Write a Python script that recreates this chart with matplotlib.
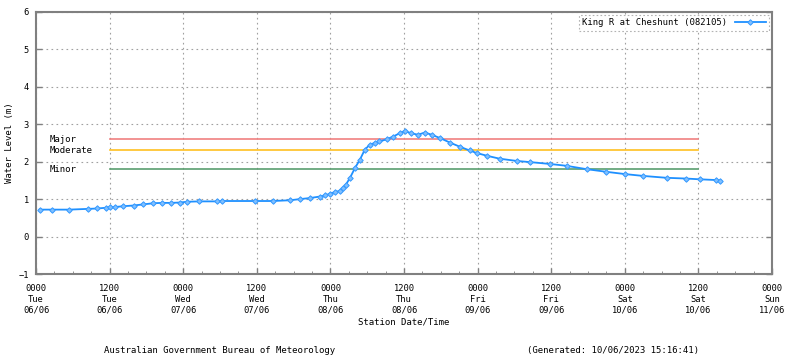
import numpy as np
import matplotlib.pyplot as plt

# hours since 0000 Tue 06/06, water level (m)
hours = [0.6, 2.6, 5.4, 8.5, 10.0, 11.4, 12.0, 12.9, 14.2, 15.9, 17.5, 19.1, 20.5,
         22.0, 23.5, 24.6, 26.6, 29.5, 30.3, 35.7, 38.6, 41.4, 43.0, 44.7, 46.3,
         47.2, 48.0, 48.8, 49.5, 50.0, 50.5, 51.2, 52.0, 52.8, 53.6, 54.4, 55.2,
         56.0, 57.2, 58.2, 59.3, 60.1, 61.2, 62.3, 63.4, 64.5, 65.9, 67.5, 69.1,
         70.7, 71.9, 73.5, 75.6, 78.4, 80.5, 83.8, 86.5, 89.8, 93.0, 96.0, 99.0,
         102.8, 106.0, 108.2, 110.9, 111.6]
level = [0.72, 0.72, 0.72, 0.74, 0.75, 0.77, 0.78, 0.79, 0.81, 0.83, 0.86, 0.89, 0.90,
         0.90, 0.91, 0.93, 0.94, 0.94, 0.95, 0.95, 0.95, 0.97, 1.00, 1.03, 1.07,
         1.10, 1.15, 1.19, 1.22, 1.30, 1.38, 1.57, 1.83, 2.05, 2.32, 2.45, 2.50,
         2.54, 2.60, 2.67, 2.76, 2.82, 2.76, 2.72, 2.78, 2.72, 2.63, 2.51, 2.40,
         2.30, 2.23, 2.16, 2.08, 2.02, 1.99, 1.94, 1.89, 1.80, 1.73, 1.67, 1.62,
         1.57, 1.55, 1.53, 1.51, 1.49]

flood_names = ['Major', 'Moderate', 'Minor']
flood_levels = [2.6, 2.3, 1.8]
flood_colors = ['#f08080', '#ffc020', '#5a9e6f']
flood_span = (12, 108)

tick_hours = np.arange(0, 121, 12)
tick_labels = ['0000\nTue\n06/06', '1200\nTue\n06/06', '0000\nWed\n07/06',
               '1200\nWed\n07/06', '0000\nThu\n08/06', '1200\nThu\n08/06',
               '0000\nFri\n09/06', '1200\nFri\n09/06', '0000\nSat\n10/06',
               '1200\nSat\n10/06', '0000\nSun\n11/06']

plt.rcParams['font.family'] = 'DejaVu Sans Mono'
plt.rcParams['font.size'] = 6.3

fig = plt.figure(figsize=(8, 3.58), dpi=100)
ax = fig.add_axes([0.045, 0.2346, 0.92, 0.732])

for name, lv, c in zip(flood_names, flood_levels, flood_colors):
    ax.plot(flood_span, [lv, lv], color=c, linewidth=1.2, zorder=2)
    ax.text(2.3, lv, name, ha='left', va='center', fontsize=6.5)

ax.plot(hours, level, color='#1e90ff', linewidth=1.3, marker='D', markersize=2.8,
        markerfacecolor='#7fbfff', markeredgecolor='#3399ff', markeredgewidth=0.7,
        label='King R at Cheshunt (082105)', zorder=3)

ax.set_xlim(0, 120)
ax.set_ylim(-1, 6)
ax.set_xticks(tick_hours)
ax.set_xticklabels(tick_labels, linespacing=1.3)
ax.set_xticks(np.arange(0, 121, 3), minor=True)
ax.set_yticks(range(-1, 7))
ax.tick_params(axis='both', direction='in', length=4, color='#808080', width=1)
ax.tick_params(axis='x', which='minor', direction='in', length=2.5, color='#808080')
ax.tick_params(axis='x', pad=7)
ax.tick_params(axis='y', right=True, pad=5)
ax.grid(True, which='major', linestyle=(0, (1.5, 3)), color='#a0a0a0', linewidth=0.8)
for s in ax.spines.values():
    s.set_color('#808080')
    s.set_linewidth(1.5)

ax.set_ylabel('Water Level (m)', fontsize=6.5)
ax.yaxis.set_label_coords(-0.03, 0.5)
ax.set_xlabel('Station Date/Time', fontsize=6.5, labelpad=2)

leg = ax.legend(loc='upper right', fontsize=6.4, frameon=True, fancybox=False,
                handlelength=3.5, borderpad=0.4, borderaxespad=0.3, markerfirst=False)
leg.get_frame().set_edgecolor('#a0a0a0')
leg.get_frame().set_linestyle((0, (1.5, 2)))
leg.get_frame().set_linewidth(0.8)

fig.text(0.275, 0.022, 'Australian Government Bureau of Meteorology', ha='center',
         va='center', fontsize=6.5)
fig.text(0.766, 0.022, '(Generated: 10/06/2023 15:16:41)', ha='center',
         va='center', fontsize=6.5)

fig.savefig('out.png', dpi=100)
